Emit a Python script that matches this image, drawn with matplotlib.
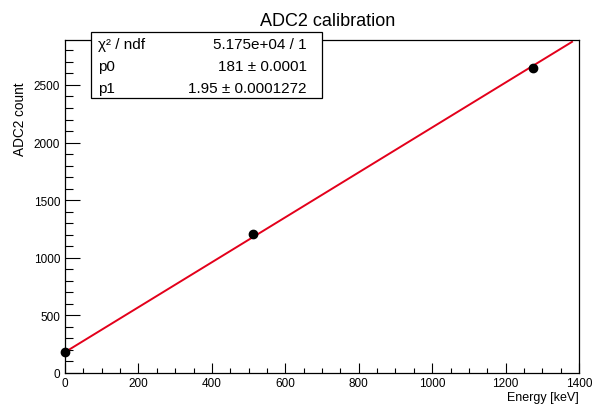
import numpy as np
import matplotlib.pyplot as plt
from matplotlib.ticker import MultipleLocator

plt.rcParams['font.family'] = ['Liberation Sans', 'DejaVu Sans']

energy = [0, 511, 1275]
adc = [186, 1210, 2650]
p0 = 181
p1 = 1.95
fit_range = [0, 1381]

stats_names = ['χ² / ndf', 'p0', 'p1']
stats_values = ['5.175e+04 / 1', '181 ± 0.0001', '1.95 ± 0.0001272']


def main():
    fig = plt.figure(figsize=(5.99, 4.10), dpi=100)
    ax = fig.add_axes([65/599, 1-374/410, 514/599, 333/410])

    xf = np.array(fit_range)
    ax.plot(xf, p0 + p1*xf, color='#e3001b', lw=1.4, zorder=2)
    ax.plot(energy, adc, 'o', color='black', ms=6, clip_on=False, zorder=3)

    ax.set_xlim(0, 1400)
    ax.set_ylim(0, 2890)
    ax.xaxis.set_major_locator(MultipleLocator(200))
    ax.xaxis.set_minor_locator(MultipleLocator(50))
    ax.yaxis.set_major_locator(MultipleLocator(500))
    ax.yaxis.set_minor_locator(MultipleLocator(100))
    ax.tick_params(which='both', direction='in', labelsize=8.5, width=0.8)
    ax.tick_params(axis='y', which='major', length=11)
    ax.tick_params(axis='y', which='minor', length=5.5)
    ax.tick_params(axis='x', which='major', length=7.5)
    ax.tick_params(axis='x', which='minor', length=3.7)
    ax.tick_params(axis='x', pad=3)
    for s in ax.spines.values():
        s.set_linewidth(0.9)

    ax.set_xlabel('Energy [keV]', fontsize=9, loc='right', labelpad=1)
    fig.text(20/599, 1-119/410, 'ADC2 count', rotation=90, ha='center',
             va='center', fontsize=9.8)
    fig.text(328/599, 1-21/410, 'ADC2 calibration', ha='center', va='center',
             fontsize=13)

    # stats box
    bx0, bx1 = 91/599, 322/599
    by0, by1 = 1-99/410, 1-33/410
    box = plt.Rectangle((bx0, by0), bx1-bx0, by1-by0, transform=fig.transFigure,
                        facecolor='white', edgecolor='black', lw=0.9, zorder=5)
    fig.add_artist(box)
    rows = len(stats_names)
    for i, (n, v) in enumerate(zip(stats_names, stats_values)):
        yy = by1 - (i + 0.55)*(by1-by0)/rows
        fig.text(98/599, yy, n, ha='left', va='center', fontsize=11, zorder=6)
        fig.text(bx1 - 15/599, yy, v, ha='right', va='center', fontsize=11, zorder=6)

    fig.savefig('out.png', dpi=100)


if __name__ == "__main__":
    main()
